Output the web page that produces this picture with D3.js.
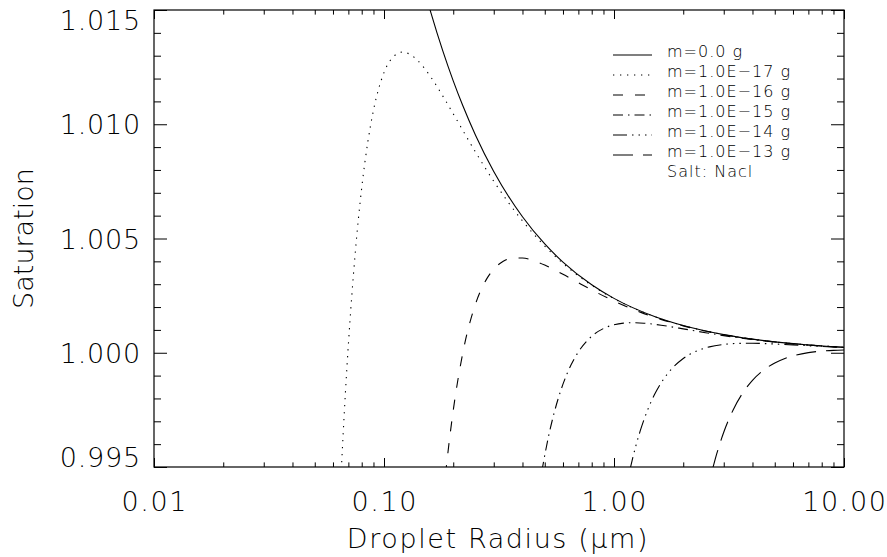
<!DOCTYPE html>
<html>
<head>
<meta charset="utf-8">
<script src="https://cdn.jsdelivr.net/npm/d3@7"></script>
<style>
  html, body { margin: 0; padding: 0; background: #fff; }
  svg { display: block; }
  text { font-family: "DejaVu Sans", sans-serif; font-weight: 200; fill: #000; }
</style>
</head>
<body>
<svg id="chart" width="887" height="557"></svg>
<script>
// ---------------- DATA ----------------
const seriesLabels = ["m=0.0 g", "m=1.0E\u221217 g", "m=1.0E\u221216 g", "m=1.0E\u221215 g", "m=1.0E\u221214 g", "m=1.0E\u221213 g"];
const noteLabel = "Salt: Nacl";

// droplet radius (µm) and saturation ratio for each salt mass
const radiusM0 = [0.15, 0.16, 0.17, 0.18, 0.2, 0.22, 0.25, 0.3, 0.4, 0.5, 0.6, 0.8, 1.0, 1.5, 2, 3, 4, 5, 7, 10];
const satM0 = [1.015867, 1.014875, 1.014, 1.013222, 1.0119, 1.010818, 1.00952, 1.007933, 1.00595, 1.00476, 1.003967, 1.002975, 1.00238, 1.001587, 1.00119, 1.000793, 1.000595, 1.000476, 1.00034, 1.000238];

const radiusM17 = [0.065, 0.068, 0.07, 0.075, 0.08, 0.085, 0.09, 0.1, 0.11, 0.12, 0.13, 0.14, 0.16, 0.18, 0.2, 0.25, 0.3, 0.4, 0.5, 0.6, 0.8, 1.0, 1.5, 2, 3, 5, 10];
const satM17 = [0.994591, 0.998295, 1.000356, 1.004379, 1.007211, 1.009209, 1.010614, 1.01226, 1.012966, 1.013155, 1.013055, 1.012794, 1.012058, 1.011243, 1.010457, 1.008781, 1.007506, 1.00577, 1.004668, 1.003913, 1.002952, 1.002368, 1.001583, 1.001189, 1.000793, 1.000476, 1.000238];

const radiusM16 = [0.185, 0.19, 0.2, 0.22, 0.25, 0.28, 0.3, 0.33, 0.36, 0.4, 0.45, 0.5, 0.6, 0.7, 0.8, 1.0, 1.3, 1.6, 2, 3, 4, 6, 10];
const satM16 = [0.99464, 0.995701, 0.997475, 0.99998, 1.002134, 1.003243, 1.003659, 1.004001, 1.004138, 1.004147, 1.004023, 1.003837, 1.003433, 1.003064, 1.00275, 1.002265, 1.001778, 1.00146, 1.001176, 1.000789, 1.000593, 1.000396, 1.000238];

const radiusM15 = [0.485, 0.52, 0.55, 0.6, 0.65, 0.7, 0.8, 0.9, 1.0, 1.1, 1.2, 1.35, 1.5, 1.75, 2, 2.5, 3, 4, 5, 7, 10];
const satM15 = [0.994792, 0.99637, 0.997391, 0.998624, 0.99946, 1.000036, 1.000721, 1.001061, 1.001226, 1.001297, 1.001315, 1.001294, 1.001245, 1.001145, 1.001046, 1.000878, 1.00075, 1.000577, 1.000467, 1.000337, 1.000237];

const radiusM14 = [1.17, 1.2, 1.3, 1.4, 1.5, 1.7, 2.0, 2.3, 2.6, 3.0, 3.5, 4.0, 4.5, 5, 6, 7, 8.5, 10];
const satM14 = [0.994829, 0.995305, 0.996578, 0.997494, 0.998168, 0.999051, 0.999747, 1.000087, 1.000258, 1.000366, 1.000411, 1.000415, 1.000402, 1.000384, 1.000344, 1.000306, 1.000261, 1.000227];

const radiusM13 = [2.68, 2.8, 3.0, 3.3, 3.6, 4.0, 4.5, 5.0, 5.5, 6, 7, 8, 9, 10];
const satM13 = [0.994893, 0.995593, 0.996519, 0.99751, 0.998188, 0.998792, 0.999263, 0.999553, 0.999739, 0.999863, 1.000004, 1.000073, 1.000106, 1.000123];

const xMajorTicks = [0.01, 0.1, 1, 10];
const xTickLabels = ["0.01", "0.10", "1.00", "10.00"];
const yMajorTicks = [0.995, 1.000, 1.005, 1.010, 1.015];
const yTickLabels = ["0.995", "1.000", "1.005", "1.010", "1.015"];
const xTitle = "Droplet Radius (\u03bcm)";
const yTitle = "Saturation";

// ---------------- LAYOUT ----------------
const W = 887, H = 557;
const pLeft = 154, pRight = 844, pTop = 10, pBottom = 467;
const svg = d3.select("#chart");

const x = d3.scaleLog().domain([0.01, 10]).range([pLeft, pRight]);
const y = d3.scaleLinear().domain([0.995, 1.015]).range([pBottom, pTop]);

const dashes = ["none", "1.3,5.7", "10,12", "10,5,1.5,5", "14,5,1.5,5,1.5,5,1.5,5", "20,10"];

const series = [
  [radiusM0, satM0], [radiusM17, satM17], [radiusM16, satM16],
  [radiusM15, satM15], [radiusM14, satM14], [radiusM13, satM13]
].map(([r, s], i) => ({ pts: r.map((v, k) => ({ r: v, s: s[k] })), dash: dashes[i], label: seriesLabels[i] }));

// clip
svg.append("defs").append("clipPath").attr("id", "clip")
  .append("rect").attr("x", pLeft).attr("y", pTop).attr("width", pRight - pLeft).attr("height", pBottom - pTop);

const line = d3.line().x(d => x(d.r)).y(d => y(d.s)).curve(d3.curveMonotoneX);

const g = svg.append("g").attr("clip-path", "url(#clip)");
series.forEach(sr => {
  g.append("path").datum(sr.pts)
    .attr("d", line)
    .attr("fill", "none").attr("stroke", "#000").attr("stroke-width", 1.1)
    .attr("stroke-dasharray", sr.dash === "none" ? null : sr.dash);
});

// ---------------- AXES ----------------
const xMinor = [];
[0.01, 0.1, 1].forEach(d => { for (let k = 2; k <= 9; k++) xMinor.push(d * k); });
const yMinor = d3.range(0, 21).map(i => 0.995 + i * 0.001).filter(v => !yMajorTicks.some(t => Math.abs(t - v) < 1e-9));

function styleAxis(sel) {
  sel.select(".domain").remove();
  sel.selectAll(".tick line").attr("stroke", "#000").attr("stroke-width", 1);
  sel.selectAll(".tick text").remove();
}
const xMajLen = 9, xMinLen = 4.6, yMajLen = 13, yMinLen = 7;

svg.append("g").attr("transform", `translate(0,${pBottom})`)
  .call(d3.axisBottom(x).tickValues(xMajorTicks).tickSize(-xMajLen).tickFormat("")).call(styleAxis);
svg.append("g").attr("transform", `translate(0,${pBottom})`)
  .call(d3.axisBottom(x).tickValues(xMinor).tickSize(-xMinLen).tickFormat("")).call(styleAxis);
svg.append("g").attr("transform", `translate(0,${pTop})`)
  .call(d3.axisTop(x).tickValues(xMajorTicks).tickSize(-xMajLen).tickFormat("")).call(styleAxis);
svg.append("g").attr("transform", `translate(0,${pTop})`)
  .call(d3.axisTop(x).tickValues(xMinor).tickSize(-xMinLen).tickFormat("")).call(styleAxis);
svg.append("g").attr("transform", `translate(${pLeft},0)`)
  .call(d3.axisLeft(y).tickValues(yMajorTicks).tickSize(-yMajLen).tickFormat("")).call(styleAxis);
svg.append("g").attr("transform", `translate(${pLeft},0)`)
  .call(d3.axisLeft(y).tickValues(yMinor).tickSize(-yMinLen).tickFormat("")).call(styleAxis);
svg.append("g").attr("transform", `translate(${pRight},0)`)
  .call(d3.axisRight(y).tickValues(yMajorTicks).tickSize(-yMajLen).tickFormat("")).call(styleAxis);
svg.append("g").attr("transform", `translate(${pRight},0)`)
  .call(d3.axisRight(y).tickValues(yMinor).tickSize(-yMinLen).tickFormat("")).call(styleAxis);

// frame
svg.append("rect").attr("x", pLeft).attr("y", pTop).attr("width", pRight - pLeft).attr("height", pBottom - pTop)
  .attr("fill", "none").attr("stroke", "#000").attr("stroke-width", 1.2);

// tick labels
const tickFont = 27;
svg.append("g").selectAll("text").data(xMajorTicks).join("text")
  .attr("x", d => x(d) + 0.8).attr("y", 511)
  .attr("text-anchor", "middle").attr("font-size", tickFont).attr("letter-spacing", 1.6)
  .text((d, i) => xTickLabels[i]);

svg.append("g").selectAll("text").data(yMajorTicks).join("text")
  .attr("x", 141)
  .attr("y", d => Math.min(pBottom, Math.max(pTop + 20, y(d) + 10)))
  .attr("text-anchor", "end").attr("font-size", tickFont).attr("letter-spacing", 0.8)
  .text((d, i) => yTickLabels[i]);

// titles
svg.append("text").attr("x", 498).attr("y", 548)
  .attr("text-anchor", "middle").attr("font-size", 27).attr("letter-spacing", 1.6).text(xTitle);
svg.append("text").attr("transform", `translate(33,${(pTop + pBottom) / 2}) rotate(-90)`)
  .attr("text-anchor", "middle").attr("font-size", 27).text(yTitle);

// ---------------- LEGEND ----------------
const legX0 = 613, legX1 = 652, legTextX = 667, legBase0 = 57, legStep = 20;
const leg = svg.append("g");
series.forEach((sr, i) => {
  const by = legBase0 + i * legStep;
  leg.append("line").attr("x1", legX0).attr("x2", legX1).attr("y1", by - 2).attr("y2", by - 2)
    .attr("stroke", "#000").attr("stroke-width", 1.1)
    .attr("stroke-dasharray", sr.dash === "none" ? null : sr.dash);
  leg.append("text").attr("x", legTextX).attr("y", by).attr("font-size", 16)
    .attr("letter-spacing", 1).text(sr.label);
});
leg.append("text").attr("x", legTextX).attr("y", legBase0 + 6 * legStep).attr("font-size", 16)
  .attr("letter-spacing", 1).text(noteLabel);
</script>
</body>
</html>
